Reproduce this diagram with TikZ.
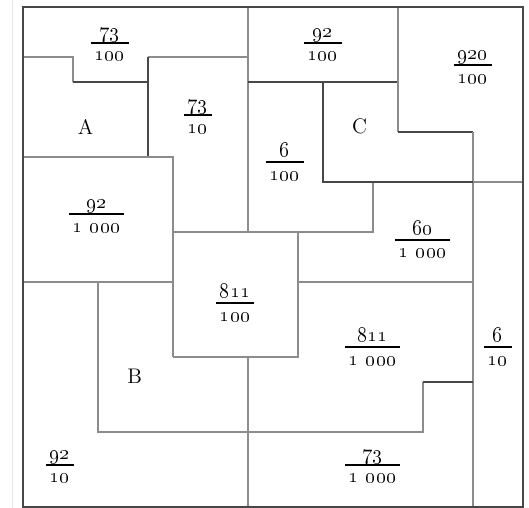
\documentclass[tikz,border=0pt]{standalone}
\usepackage{tikz}

\setlength{\arrayrulewidth}{0.9pt}
\newcommand{\frc}[2]{\begin{tabular}{@{\kern2pt}c@{\kern2pt}}\oldstylenums{#1}\\[-1.4pt]\hline\oldstylenums{#2}\end{tabular}}

\begin{document}
\begin{tikzpicture}[
                    x=0.5cm,
                    y=-0.5cm,
                    cut/.style={draw=black!45, line width=1pt},
                    cutdark/.style={draw=black!72, line width=1pt},
                    font=\large
                ]
                \useasboundingbox (-0.908,-0.268) rectangle (20.252,20.052);
                \draw[black!10, line width=0.6pt] (-0.39,-0.268) -- (-0.39,20.052);

                % pieces
                \draw[cut] (0,2) -- (2,2) -- (2,3);
                \draw[cutdark] (2,3) -- (5,3);
                \draw[cut] (5,2) -- (9,2);
                \draw[cutdark] (5,2) -- (5,6);
                \draw[cut] (9,0) -- (9,9);
                \draw[cut] (0,6) -- (6,6) -- (6,14);
                \draw[cut] (6,9) -- (14,9) -- (14,7);
                \draw[cutdark] (9,3) -- (15,3);
                \draw[cut] (15,0) -- (15,5);
                \draw[cutdark] (15,5) -- (18,5);
                \draw[cut] (18,5) -- (18,20);
                \draw[cutdark] (12,3) -- (12,7) -- (18,7);
                \draw[cut] (18,7) -- (20,7);
                \draw[cut] (0,11) -- (6,11);
                \draw[cut] (3,11) -- (3,17) -- (16,17) -- (16,15);
                \draw[cutdark] (16,15) -- (18,15);
                \draw[cut] (6,14) -- (11,14) -- (11,9);
                \draw[cut] (11,11) -- (18,11);
                \draw[cut] (9,14) -- (9,20);
                \draw[cutdark, line width=1.2pt] (0,0) rectangle (20,20);

                \begin{scope}[
                        every node/.style={inner sep=0pt, yshift=-1pt}
                    ]
                    \node[] (top-left) at (3.48,1.42) {\frc{73}{100}} ;
                    \node[] (top-mid) at (12,1.42) {\frc{92}{100}} ;
                    \node[] (top-right) at (18,2.32) {\frc{920}{100}} ;
                    \node[] (tall) at (7,4.32) {\frc{73}{10}} ;
                    \node[] (middle) at (10.48,6.2) {\frc{6}{100}} ;
                    \node[] (left-mid) at (2.96,8.28) {\frc{92}{1 000}} ;
                    \node[] (right-mid) at (16,9.3) {\frc{60}{1 000}} ;
                    \node[] (centre) at (8.5,11.84) {\frc{811}{100}} ;
                    \node[] (lower-right) at (14,13.6) {\frc{811}{1 000}} ;
                    \node[] (strip) at (19,13.6) {\frc{6}{10}} ;
                    \node[] (bottom-left) at (1.48,18.3) {\frc{92}{10}} ;
                    \node[] (bottom-right) at (14,18.3) {\frc{73}{1 000}} ;
                \end{scope}

                \node[] (piece-a) at (2.52,4.8) {A} ;
                \node[] (piece-c) at (13.48,4.8) {C} ;
                \node[] (piece-b) at (4.48,14.8) {B} ;
            \end{tikzpicture}
\end{document}
